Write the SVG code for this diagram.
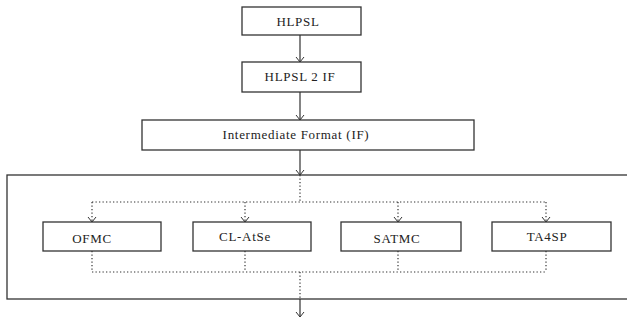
<svg xmlns="http://www.w3.org/2000/svg" width="627" height="323" viewBox="0 0 627 323">
<defs>
<style>
.box{fill:#fff;stroke:#333;stroke-width:1.3}
.lbl{font-family:'Liberation Serif','Times New Roman','DejaVu Serif',serif;font-size:13px;letter-spacing:0.7px;fill:#222;text-anchor:middle}
.solid{stroke:#333;stroke-width:1.2;fill:none}
.dot{stroke:#333;stroke-width:1.2;fill:none;stroke-dasharray:1.3 2.2}
.head{stroke:#333;stroke-width:1;fill:none}
</style>
</defs>
<rect width="627" height="323" fill="#fff"/>
<g id="container"><rect class="box" x="7" y="175" width="640" height="124"/></g>
<g id="hlpsl"><rect class="box" x="242" y="7" width="119" height="28"/><text class="lbl" x="298" y="25.5">HLPSL</text></g>
<g id="hlpsl2if"><rect class="box" x="242" y="62" width="119" height="30"/><text class="lbl" x="300" y="80.5">HLPSL 2 IF</text></g>
<g id="if"><rect class="box" x="142" y="120" width="332" height="30"/><text class="lbl" x="296" y="138.5">Intermediate Format (IF)</text></g>
<g id="ofmc"><rect class="box" x="43" y="222" width="118" height="29"/><text class="lbl" x="92" y="242.5">OFMC</text></g>
<g id="clatse"><rect class="box" x="193" y="222" width="118" height="29"/><text class="lbl" x="245" y="240.5">CL-AtSe</text></g>
<g id="satmc"><rect class="box" x="341" y="222" width="120" height="29"/><text class="lbl" x="397" y="242.5">SATMC</text></g>
<g id="ta4sp"><rect class="box" x="492" y="222" width="119" height="29"/><text class="lbl" x="547" y="240.5">TA4SP</text></g>
<g id="connectors">
<path class="solid" d="M300 35V62M300 92V120M300 150V175M300 299V317"/>
<path class="head" d="M296 57L300 62L304 57M296 115L300 120L304 115M296 170L300 175L304 170M296 312L300 317L304 312"/>
<path class="dot" d="M300 175V202M92 202H547M92 202V222M245 202V222M398 202V222M546 202V222"/>
<path class="head" d="M88 217L92 222L96 217M241 217L245 222L249 217M394 217L398 222L402 217M542 217L546 222L550 217"/>
<path class="dot" d="M92 251V272M245 251V272M398 251V272M546 251V272M92 272H547M300 272V299"/>
</g>
</svg>
